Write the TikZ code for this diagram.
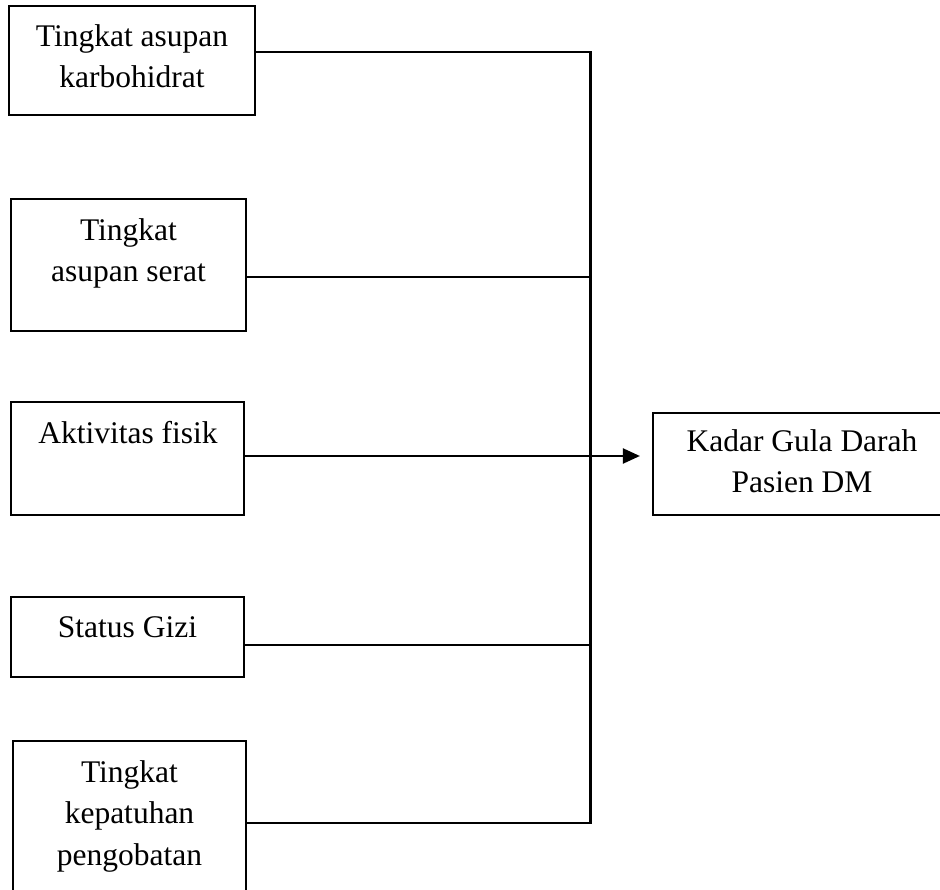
\documentclass[tikz,border=0pt]{standalone}
\usepackage{fontspec}
\setmainfont{Liberation Serif}
\usetikzlibrary{arrows.meta}
\begin{document}
\begin{tikzpicture}[x=1pt,y=-1pt,
  box/.style={draw=black, line width=2.2pt, inner sep=0pt, rectangle},
  txt/.style={align=center, inner sep=0pt, anchor=base, font=\fontsize{31.5}{41.5}\selectfont},
  conn/.style={line width=2.2pt},
  arr/.style={line width=2.2pt, -{Triangle[length=17pt,width=15pt]}}]
\useasboundingbox (0,0) rectangle (940,890);
\clip (0,0) rectangle (940,890);
% boxes
\node[box, minimum width=246pt, minimum height=109pt] (b1) at (132,60.5) {};
\node[box, minimum width=235pt, minimum height=132pt] (b2) at (128.5,265) {};
\node[box, minimum width=233pt, minimum height=113pt] (b3) at (127.5,458.5) {};
\node[box, minimum width=233pt, minimum height=80pt] (b4) at (127.5,637) {};
\node[box, minimum width=233pt, minimum height=160pt] (b5) at (129.5,821) {};
\node[box, minimum width=300pt, minimum height=102pt] (b6) at (803,464) {};
% texts (anchor base = baseline of the last line)
\node[txt] (t1) at (132,88) {Tingkat asupan\\karbohidrat};
\node[txt] (t2) at (128.5,282) {Tingkat\\asupan serat};
\node[txt] (t3) at (128,443) {Aktivitas fisik};
\node[txt] (t4) at (127.5,637) {Status Gizi};
\node[txt] (t5) at (129.5,865) {Tingkat\\kepatuhan\\pengobatan};
\node[txt] (t6) at (802,493) {Kadar Gula Darah\\Pasien DM};
% bus coordinates
\coordinate (j1) at (590.5,52);
\coordinate (j2) at (590.5,277);
\coordinate (j4) at (590.5,645);
\coordinate (j5) at (590.5,823);
\coordinate (a3) at (0,456);
% connectors
\draw[conn] (b1.east |- j1) -- (j1) -- (j5) -- (b5.east |- j5);
\draw[conn] (b2.east |- j2) -- (j2);
\draw[conn] (b4.east |- j4) -- (j4);
\draw[arr] (b3.east |- a3) -- ([xshift=-12pt]b6.west |- a3);
\end{tikzpicture}
\end{document}
